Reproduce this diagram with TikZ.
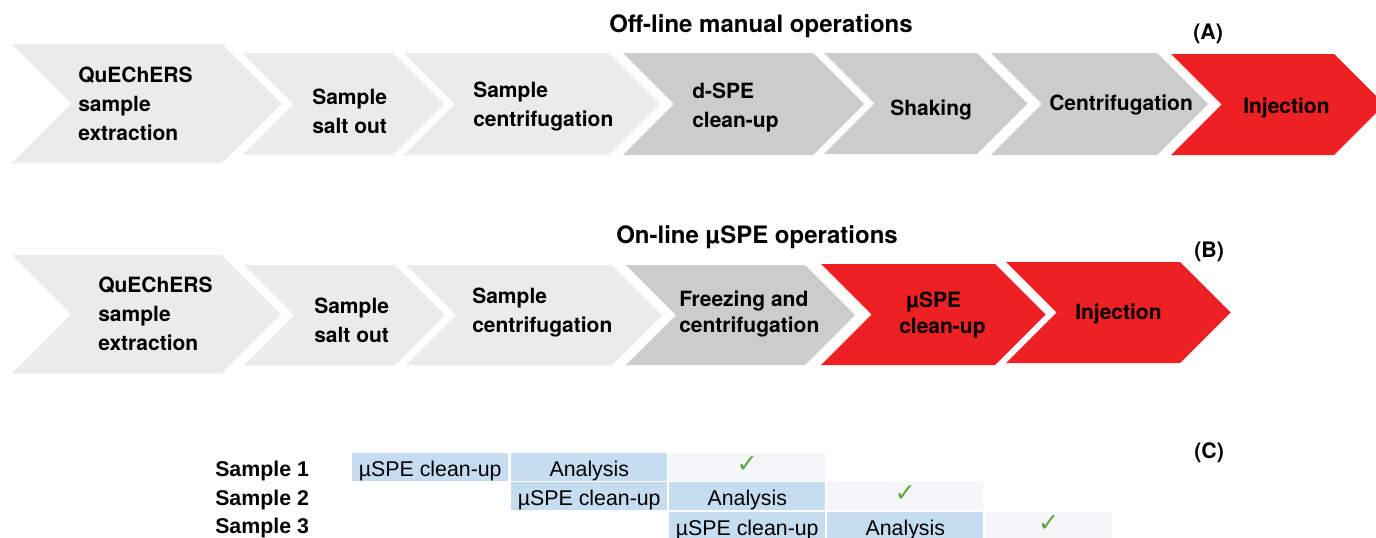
\documentclass[tikz,border=0pt]{standalone}
\usepackage{fontspec}
\setmainfont{TeX Gyre Heros}
\newfontfamily\tabfont{Liberation Sans}
\newfontfamily\symfont{DejaVu Sans}
\usepackage{xcolor}
\definecolor{paleGray}{HTML}{EBEBEB}
\definecolor{midGray}{HTML}{CCCCCC}
\definecolor{stepRed}{HTML}{ED2024}
\definecolor{cellBlue}{HTML}{C5DCF1}
\definecolor{cellPale}{HTML}{F5F6F7}
\definecolor{tickGreen}{HTML}{5FA83F}
% chevron: left x, right x, top y, bottom y, fill
\newcommand{\stepchev}[5]{%
  \fill[#5] (#1,#3) -- (#2,#3) -- ({#2+(#4-#3)/2},{(#3+#4)/2}) -- (#2,#4) -- (#1,#4) -- ({#1+(#4-#3)/2},{(#3+#4)/2}) -- cycle;}

\begin{document}
\begin{tikzpicture}[x=0.75pt, y=-0.75pt,
		steplabel/.style={font=\bfseries\fontsize{15.75}{21.4}\selectfont, align=left, inner sep=0pt, anchor=base west},
		steptight/.style={steplabel, font=\bfseries\fontsize{15.75}{19.5}\selectfont},
		rowtitle/.style={font=\bfseries\fontsize{18}{22}\selectfont, inner sep=0pt, anchor=base},
		panel/.style={font=\bfseries\fontsize{16}{20}\selectfont, inner sep=0pt, anchor=base west},
		cellbox/.style={fill=cellBlue, inner sep=0pt, minimum width=117pt, minimum height=21pt, text height=13.5pt, text depth=0pt, anchor=north west, font=\tabfont\fontsize{16}{19}\selectfont},
		tickbox/.style={cellbox, fill=cellPale, text=tickGreen, text height=7.5pt, font=\symfont\fontsize{19}{21}\selectfont},
		samplelabel/.style={font=\tabfont\bfseries\fontsize{16}{19}\selectfont, inner sep=0pt, anchor=base west}]
	\useasboundingbox (0,0) rectangle (1376,537);
	\clip (0,0) rectangle (1376,537);

	% (A) off-line
	\stepchev{12}{222}{44}{163}{paleGray}
	\stepchev{242}{393}{53}{155}{paleGray}
	\stepchev{404}{609}{53}{155}{paleGray}
	\stepchev{623}{813}{53}{155}{midGray}
	\stepchev{824}{977}{53}{154}{midGray}
	\stepchev{991}{1157}{53}{155}{midGray}
	\stepchev{1171}{1334}{54}{155}{stepRed}
	\node[rowtitle] (offline) at (761,32) {Off-line manual operations};
	\node[panel] (tagA) at (1193,39) {(A)};
	\node[steplabel] (qa) at (78,140) {QuEChERS\\sample\\extraction};
	\node[steplabel] (sa) at (312,133) {Sample\\salt out};
	\node[steplabel] (ca) at (473,126) {Sample\\centrifugation};
	\node[steplabel] (da) at (692,127) {d-SPE\\clean-up};
	\node[steplabel] (ka) at (890,115) {Shaking};
	\node[steplabel] (fa) at (1049,110) {Centrifugation};
	\node[steplabel] (ia) at (1243,113) {Injection};

	% (B) on-line
	\stepchev{12}{222}{255}{373}{paleGray}
	\stepchev{244}{395}{265}{365}{paleGray}
	\stepchev{406}{612}{265}{365}{paleGray}
	\stepchev{626}{805}{265}{365}{midGray}
	\stepchev{821}{995}{264}{365}{stepRed}
	\stepchev{1006}{1180}{262}{363}{stepRed}
	\node[rowtitle] (online) at (757,243) {On-line µSPE operations};
	\node[panel] (tagB) at (1194,257) {(B)};
	\node[steplabel] (qb) at (98,350) {QuEChERS\\sample\\extraction};
	\node[steplabel] (sb) at (314,342) {Sample\\salt out};
	\node[steplabel] (cb) at (472,332) {Sample\\centrifugation};
	\node[steptight] (fb) at (679,332) {Freezing and\\centrifugation};
	\node[steptight] (mb) at (899,333) {\hspace*{5.25pt}µSPE\\clean-up};
	\node[steplabel] (ib) at (1075,319) {Injection};

	% (C) sequence
	\node[panel] (tagC) at (1194,458) {(C)};
	\node[samplelabel] (smp1) at (215,476) {Sample 1};
	\node[samplelabel] (smp2) at (215,505) {Sample 2};
	\node[samplelabel] (smp3) at (215,533) {Sample 3};
	\node[cellbox] (s1clean) at (352,453) {µSPE clean-up};
	\node[cellbox] (s1anal) at (511,453) {Analysis};
	\node[tickbox] (s1done) at (669,453) {✓};
	\node[cellbox] (s2clean) at (511,482) {µSPE clean-up};
	\node[cellbox] (s2anal) at (669,482) {Analysis};
	\node[tickbox] (s2done) at (827,482) {✓};
	\node[cellbox] (s3clean) at (669,512) {µSPE clean-up};
	\node[cellbox] (s3anal) at (827,512) {Analysis};
	\node[tickbox, minimum width=95.25pt] (s3done) at (985,512) {✓};
\end{tikzpicture}
\end{document}
